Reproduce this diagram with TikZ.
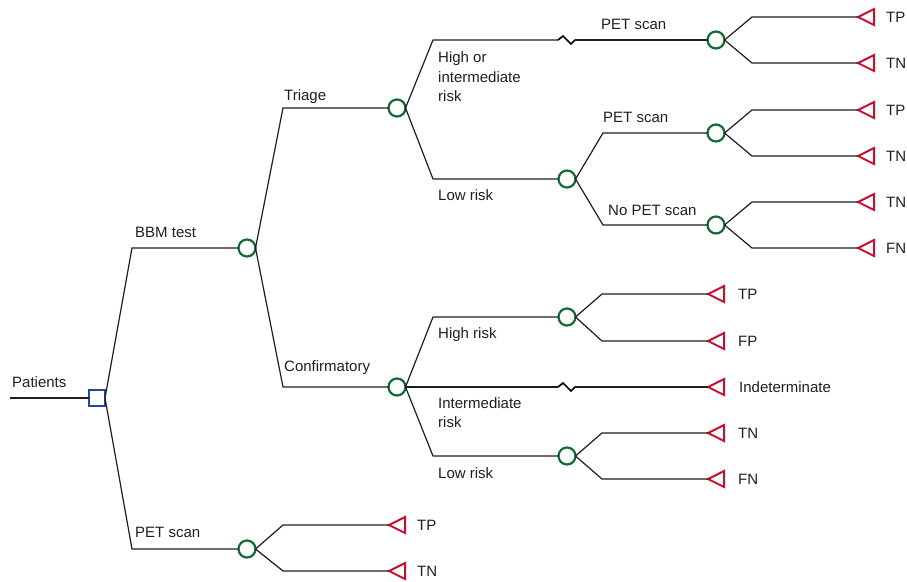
\documentclass[tikz,border=0pt]{standalone}
\usepackage{fontspec}
\setmainfont{Liberation Sans}
\usetikzlibrary{shapes.geometric}

\definecolor{chance}{RGB}{16,108,52}
\definecolor{terminal}{RGB}{200,16,46}
\definecolor{decision}{RGB}{31,72,150}
\definecolor{branch}{RGB}{30,30,30}

\tikzset{
  chancenode/.style={circle, draw=chance, line width=2.2pt, fill=white,
    minimum size=17pt, inner sep=0pt, outer sep=0pt},
  decisionnode/.style={rectangle, draw=decision, line width=2.2pt, fill=white,
    minimum size=16pt, inner sep=0pt, outer sep=0pt},
  endnode/.style={isosceles triangle, isosceles triangle stretches,
    shape border rotate=180, draw=terminal, line width=2pt, fill=white,
    minimum width=16pt, minimum height=16pt, inner sep=0pt, outer sep=0pt,
    anchor=apex},
  edge/.style={draw=branch, line width=1.2pt},
  brk/.style={draw=black, line width=1.7pt, line join=miter},
  lbl/.style={anchor=base west, inner sep=0pt,
    font=\fontsize{15}{19}\selectfont, text=black!88},
}

\begin{document}
\begin{tikzpicture}[x=1pt, y=-1pt]
\useasboundingbox (0,0) rectangle (907,581);

% ---- decision node and first split ----
\coordinate (start) at (10,398);
\node[decisionnode] (root) at (97,398) {};
\coordinate (cBBM) at (132,248);
\coordinate (cPETa) at (132,549);
\node[chancenode] (bbm) at (247,248) {};
\node[chancenode] (pet) at (247,549) {};

\draw[edge] (start) -- (root.west);
\draw[edge] (root.east) -- (cBBM) -- (bbm.west);
\draw[edge] (root.east) -- (cPETa) -- (pet.west);

% ---- BBM test: triage / confirmatory ----
\coordinate (cTri) at (283,108);
\coordinate (cConf) at (283,387);
\node[chancenode] (tri) at (397,108) {};
\node[chancenode] (conf) at (397,387) {};
\draw[edge] (bbm.east) -- (cTri) -- (tri.west);
\draw[edge] (bbm.east) -- (cConf) -- (conf.west);

% ---- triage branches ----
\coordinate (cHi) at (433,40);
\coordinate (bHiA) at (558,40);
\coordinate (bHiB) at (575,40);
\node[chancenode] (hipet) at (716,40) {};
\coordinate (cLo) at (433,179);
\node[chancenode] (lo) at (567,179) {};
\draw[edge] (tri.east) -- (cHi) -- (bHiA);
\draw[brk] (bHiA) -- ++(5,-4) -- ++(8,8) -- (bHiB);
\draw[edge] (bHiB) -- (hipet.west);
\draw[edge] (tri.east) -- (cLo) -- (lo.west);

\coordinate (cLp) at (603,133);
\coordinate (cLnp) at (603,225);
\node[chancenode] (lp) at (716,133) {};
\node[chancenode] (lnp) at (716,225) {};
\draw[edge] (lo.east) -- (cLp) -- (lp.west);
\draw[edge] (lo.east) -- (cLnp) -- (lnp.west);

% outcomes after PET scan (high/intermediate risk)
\coordinate (k1) at (752,17);  \node[endnode] (t1) at (858,17) {};
\coordinate (k2) at (752,63);  \node[endnode] (t2) at (858,63) {};
\draw[edge] (hipet.east) -- (k1) -- (t1.apex);
\draw[edge] (hipet.east) -- (k2) -- (t2.apex);
% outcomes after PET scan (low risk)
\coordinate (k3) at (752,110); \node[endnode] (t3) at (858,110) {};
\coordinate (k4) at (752,156); \node[endnode] (t4) at (858,156) {};
\draw[edge] (lp.east) -- (k3) -- (t3.apex);
\draw[edge] (lp.east) -- (k4) -- (t4.apex);
% outcomes without PET scan
\coordinate (k5) at (752,202); \node[endnode] (t5) at (858,202) {};
\coordinate (k6) at (752,248); \node[endnode] (t6) at (858,248) {};
\draw[edge] (lnp.east) -- (k5) -- (t5.apex);
\draw[edge] (lnp.east) -- (k6) -- (t6.apex);

% ---- confirmatory branches ----
\coordinate (cCh) at (433,317);
\node[chancenode] (ch) at (567,317) {};
\coordinate (bMidA) at (558,387);
\coordinate (bMidB) at (575,387);
\node[endnode] (tind) at (708,387) {};
\coordinate (cCl) at (433,456);
\node[chancenode] (cl) at (567,456) {};
\draw[edge] (conf.east) -- (cCh) -- (ch.west);
\draw[edge] (conf.east) -- (bMidA);
\draw[brk] (bMidA) -- ++(5,-4) -- ++(8,8) -- (bMidB);
\draw[edge] (bMidB) -- (tind.apex);
\draw[edge] (conf.east) -- (cCl) -- (cl.west);

\coordinate (k7) at (602,294);  \node[endnode] (t7) at (708,294) {};
\coordinate (k8) at (602,341);  \node[endnode] (t8) at (708,341) {};
\draw[edge] (ch.east) -- (k7) -- (t7.apex);
\draw[edge] (ch.east) -- (k8) -- (t8.apex);
\coordinate (k9) at (602,433);  \node[endnode] (t9) at (708,433) {};
\coordinate (k10) at (602,479); \node[endnode] (t10) at (708,479) {};
\draw[edge] (cl.east) -- (k9) -- (t9.apex);
\draw[edge] (cl.east) -- (k10) -- (t10.apex);

% ---- PET scan arm ----
\coordinate (k11) at (283,525); \node[endnode] (t11) at (389,525) {};
\coordinate (k12) at (283,571); \node[endnode] (t12) at (389,571) {};
\draw[edge] (pet.east) -- (k11) -- (t11.apex);
\draw[edge] (pet.east) -- (k12) -- (t12.apex);

% ---- branch labels ----
\node[lbl] (lPat) at (12,387) {Patients};
\node[lbl] (lBBM) at (135,237) {BBM test};
\node[lbl] (lPET) at (135,537.5) {PET scan};
\node[lbl] (lTri) at (284,100.5) {Triage};
\node[lbl] (lConf) at (284,371.5) {Confirmatory};
\node[lbl] (lHi1) at (438,62.5) {High or};
\node[lbl] (lHi2) at (438,82) {intermediate};
\node[lbl] (lHi3) at (438,101.5) {risk};
\node[lbl] (lLo) at (438,200.5) {Low risk};
\node[lbl] (lPs1) at (601,29.5) {PET scan};
\node[lbl] (lPs2) at (603,122.5) {PET scan};
\node[lbl] (lNps) at (608,215.5) {No PET scan};
\node[lbl] (lCh) at (438,338.5) {High risk};
\node[lbl] (lCm1) at (438,408.5) {Intermediate};
\node[lbl] (lCm2) at (438,427.5) {risk};
\node[lbl] (lCl) at (438,478.5) {Low risk};

% ---- outcome labels ----
\node[lbl] (o1) at (886,22.5) {TP};
\node[lbl] (o2) at (886,68.5) {TN};
\node[lbl] (o3) at (886,115.5) {TP};
\node[lbl] (o4) at (886,161.5) {TN};
\node[lbl] (o5) at (886,207.5) {TN};
\node[lbl] (o6) at (886,253.5) {FN};
\node[lbl] (o7) at (738,299.5) {TP};
\node[lbl] (o8) at (738,346.5) {FP};
\node[lbl] (o9) at (739,392.5) {Indeterminate};
\node[lbl] (o10) at (738,438.5) {TN};
\node[lbl] (o11) at (738,484.5) {FN};
\node[lbl] (o12) at (417,530.5) {TP};
\node[lbl] (o13) at (417,576.5) {TN};
\end{tikzpicture}
\end{document}
